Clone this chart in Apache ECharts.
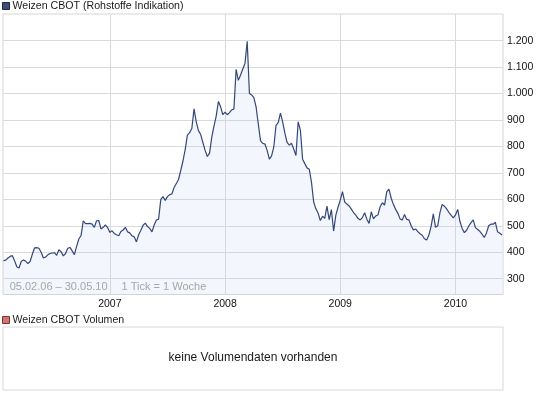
<!DOCTYPE html>
<html>
<head>
<meta charset="utf-8">
<script src="https://cdn.jsdelivr.net/npm/echarts@6/dist/echarts.min.js"></script>
<style>
html,body{margin:0;padding:0;background:#fff;}
#c{width:545px;height:395px;}
</style>
</head>
<body>
<div id="c"></div>
<script>
// ---- data ----
const titleText = 'Weizen CBOT (Rohstoffe Indikation)';
const volumeTitle = 'Weizen CBOT Volumen';
const noVolumeText = 'keine Volumendaten vorhanden';
const rangeText = '05.02.06 \u2013 30.05.10';
const tickText = '1 Tick = 1 Woche';
const startDate = '2006-02-05'; // weekly points, 1 tick = 1 week
const yTicks = [300, 400, 500, 600, 700, 800, 900, 1000, 1100, 1200];
const prices = [
  368, 370, 378, 384, 387, 368, 345, 340, 365, 371,
  366, 357, 365, 392, 416, 417, 415, 400, 378, 382,
  390, 395, 397, 398, 388, 409, 402, 386, 395, 415,
  418, 405, 391, 422, 450, 463, 519, 508, 508, 509,
  506, 494, 519, 520, 488, 494, 503, 493, 475, 481,
  471, 466, 462, 478, 484, 494, 477, 473, 462, 458,
  439, 466, 483, 502, 510, 497, 490, 477, 503, 522,
  525, 600, 610, 596, 610, 618, 620, 645, 660, 675,
  709, 745, 788, 843, 852, 868, 942, 893, 860, 845,
  815, 785, 762, 775, 835, 877, 915, 970, 950, 920,
  930, 920, 928, 938, 942, 1092, 1050, 1070, 1093, 1115,
  1198, 1000, 995, 985, 950, 885, 822, 812, 809, 785,
  752, 764, 798, 880, 890, 926, 893, 850, 815, 805,
  812, 790, 766, 893, 862, 752, 735, 719, 714, 665,
  590, 564, 548, 520, 536, 528, 574, 523, 561, 480,
  540, 570, 597, 629, 590, 582, 575, 563, 550, 540,
  528, 522, 531, 549, 525, 509, 553, 526, 537, 541,
  572, 587, 578, 629, 638, 604, 580, 562, 547, 526,
  522, 543, 524, 522, 500, 484, 488, 478, 470, 464,
  451, 446, 465, 498, 545, 494, 500, 550, 581, 574,
  564, 551, 540, 530, 541, 562, 517, 490, 474, 483,
  499, 512, 522, 493, 486, 479, 468, 456, 473, 500,
  506, 506, 513, 477, 472, 465
];

// weekly date categories
const DAY = 86400000;
const t0 = Date.parse(startDate + 'T00:00:00Z');
const weeks = prices.map((_, i) => new Date(t0 + i * 7 * DAY).toISOString().slice(0, 10));
const isFirstWeekOfYear = (idx) => {
  const d = weeks[idx];
  return d.slice(5, 7) === '01' && parseInt(d.slice(8, 10), 10) <= 7;
};
const fmtThousands = (v) => String(v).replace(/\B(?=(\d{3})+(?!\d))/g, '.');

const FONT = 'Liberation Sans, Arial, sans-serif';
const chart = echarts.init(document.getElementById('c'), null, {renderer: 'canvas'});

chart.setOption({
  animation: false,
  backgroundColor: '#fff',
  grid: [
    {left: 3.5, right: 43, top: 14, height: 280.5, containLabel: false},
    {left: 3, right: 42, top: 40.7, height: 238, containLabel: false},
    {left: 3, right: 42, top: 14, height: 280.5, show: true, borderColor: '#d6d6d6', borderWidth: 1, backgroundColor: 'transparent', containLabel: false}
  ],
  xAxis: [
    {
      gridIndex: 0, type: 'category', data: weeks, boundaryGap: false,
      axisLine: {show: false}, axisTick: {show: false},
      axisLabel: {
        interval: (idx) => isFirstWeekOfYear(idx),
        formatter: (v) => v.slice(0, 4),
        color: '#111', fontSize: 10.5, fontFamily: FONT, margin: 4
      },
      splitLine: {show: true, interval: (idx) => isFirstWeekOfYear(idx), lineStyle: {color: '#dadada', width: 1}}
    },
    {gridIndex: 1, type: 'value', min: 0, max: 1, show: false},
    {gridIndex: 2, type: 'value', min: 0, max: 1, show: false}
  ],
  yAxis: [
    {gridIndex: 0, type: 'value', min: 240, max: 1301, show: false},
    {
      gridIndex: 1, type: 'value', position: 'right', min: yTicks[0], max: yTicks[yTicks.length - 1], interval: 100,
      axisLine: {show: false}, axisTick: {show: false},
      axisLabel: {formatter: fmtThousands, color: '#111', fontSize: 10.5, fontFamily: FONT, margin: 4},
      splitLine: {show: true, lineStyle: {color: '#dadada', width: 1}}
    },
    {gridIndex: 2, type: 'value', min: 0, max: 1, show: false}
  ],
  series: [
    {
      type: 'line', xAxisIndex: 0, yAxisIndex: 0, data: prices,
      symbol: 'none', smooth: false,
      lineStyle: {color: '#34477a', width: 1.2},
      areaStyle: {color: 'rgba(190,204,236,0.26)', origin: 'start'},
      z: 3
    }
  ],
  graphic: [
    {type: 'rect', shape: {x: 2.5, y: 2.5, width: 7, height: 7}, style: {fill: '#3e4d7c', stroke: '#1d2747', lineWidth: 1}},
    {type: 'text', x: 12.5, y: 6.5, style: {text: titleText, fill: '#1a1a1a', font: '10.6px ' + FONT, textVerticalAlign: 'middle'}},
    {type: 'text', x: 9.7, y: 287, z: 10, style: {text: rangeText, fill: '#a6a6a6', font: '11px ' + FONT, textVerticalAlign: 'middle'}},
    {type: 'text', x: 121.6, y: 287, z: 10, style: {text: tickText, fill: '#a6a6a6', font: '11px ' + FONT, textVerticalAlign: 'middle'}},
    {type: 'rect', shape: {x: 2.5, y: 316.5, width: 7, height: 7}, style: {fill: '#d8706c', stroke: '#7a3533', lineWidth: 1}},
    {type: 'text', x: 12.5, y: 320.5, style: {text: volumeTitle, fill: '#1a1a1a', font: '10.6px ' + FONT, textVerticalAlign: 'middle'}},
    {type: 'rect', shape: {x: 3, y: 327, width: 500, height: 63}, style: {fill: '#fff', stroke: '#d8d8d8', lineWidth: 1}},
    {type: 'text', x: 253, y: 358, style: {text: noVolumeText, fill: '#1a1a1a', font: '12px ' + FONT, textAlign: 'center', textVerticalAlign: 'middle'}}
  ]
});
</script>
</body>
</html>
